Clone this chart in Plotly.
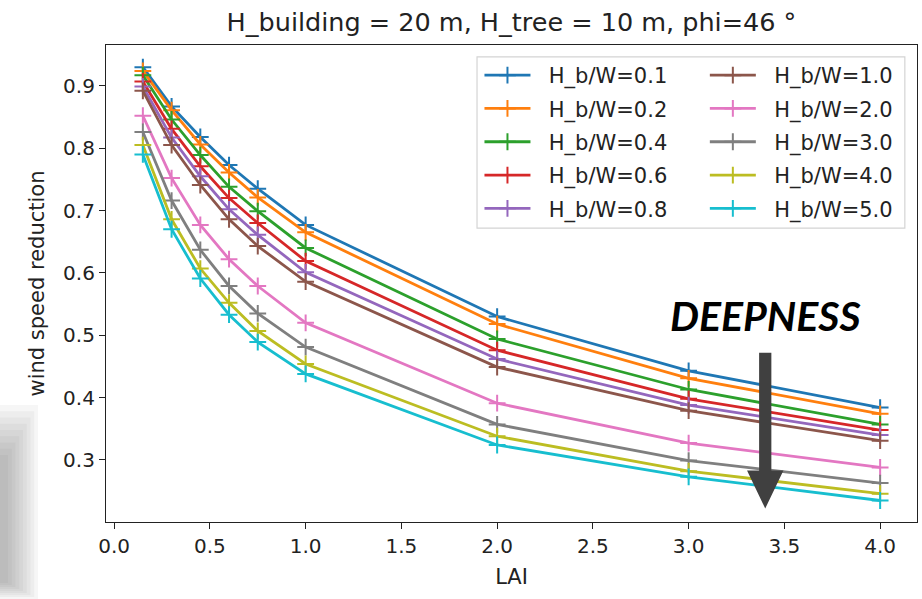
import plotly.graph_objects as go

# Leaf area index sampled in the simulations
lai = [0.15, 0.3, 0.45, 0.6, 0.75, 1.0, 2.0, 3.0, 4.0]

# Aspect ratios H_b/W of the street canyon
aspect_labels = ["0.1", "0.2", "0.4", "0.6", "0.8", "1.0", "2.0", "3.0", "4.0", "5.0"]

# Wind speed reduction for each aspect ratio
wsr_01 = [0.930, 0.867, 0.818, 0.773, 0.735, 0.677, 0.530, 0.443, 0.384]
wsr_02 = [0.924, 0.861, 0.806, 0.761, 0.721, 0.665, 0.518, 0.431, 0.374]
wsr_04 = [0.917, 0.846, 0.789, 0.738, 0.699, 0.640, 0.494, 0.413, 0.357]
wsr_06 = [0.907, 0.831, 0.771, 0.720, 0.680, 0.619, 0.476, 0.398, 0.348]
wsr_08 = [0.899, 0.817, 0.755, 0.702, 0.661, 0.601, 0.462, 0.388, 0.340]
wsr_10 = [0.892, 0.805, 0.741, 0.686, 0.643, 0.586, 0.449, 0.379, 0.331]
wsr_20 = [0.852, 0.752, 0.677, 0.622, 0.579, 0.520, 0.391, 0.327, 0.288]
wsr_30 = [0.826, 0.716, 0.637, 0.579, 0.535, 0.481, 0.357, 0.299, 0.263]
wsr_40 = [0.805, 0.686, 0.607, 0.552, 0.507, 0.454, 0.338, 0.282, 0.246]
wsr_50 = [0.790, 0.670, 0.591, 0.533, 0.489, 0.438, 0.324, 0.273, 0.235]

series = [wsr_01, wsr_02, wsr_04, wsr_06, wsr_08, wsr_10, wsr_20, wsr_30, wsr_40, wsr_50]

colors = ["#1f77b4", "#ff7f0e", "#2ca02c", "#d62728", "#9467bd",
          "#8c564b", "#e377c2", "#7f7f7f", "#bcbd22", "#17becf"]

FONT = "DejaVu Sans"
INK = "#222222"

fig = go.Figure()
for i, (lab, vals, col) in enumerate(zip(aspect_labels, series, colors)):
    fig.add_trace(go.Scatter(
        x=lai, y=vals, mode="lines+markers",
        name="\u00a0\u00a0H_b/W=" + lab,
        line=dict(color=col, width=2.8),
        marker=dict(symbol="cross-thin", size=12, line=dict(color=col, width=2)),
        legend="legend" if i < 5 else "legend2",
        legendgroup=f"g{i}",
    ))

# Arrow marking increasing canyon depth
ax_c, y_top, y_head, y_tip = 3.4, 0.472, 0.283, 0.222
hw_shaft, hw_head = 0.032, 0.095
arrow_path = (f"M {ax_c-hw_shaft},{y_top} L {ax_c+hw_shaft},{y_top} "
              f"L {ax_c+hw_shaft},{y_head} L {ax_c+hw_head},{y_head} "
              f"L {ax_c},{y_tip} L {ax_c-hw_head},{y_head} "
              f"L {ax_c-hw_shaft},{y_head} Z")

shapes = [
    dict(type="path", path=arrow_path, xref="x", yref="y",
         fillcolor="#404040", line=dict(width=0), layer="above"),
    # legend frame
    dict(type="rect", xref="paper", yref="paper",
         x0=0.4575, x1=0.985, y0=0.616, y1=0.975,
         fillcolor="rgba(255,255,255,0.85)",
         line=dict(color="#d4d4d4", width=1.2), layer="above"),
]

# soft grey smudge at the lower-left edge of the page (nested translucent layers)
W_PLOT, H_PLOT, L_M, T_M = 811.0, 477.0, 106.0, 45.0
def px_x(p):
    return (p - L_M) / W_PLOT
def px_y(p):
    return 1 - (p - T_M) / H_PLOT
n_layers = 9
for k in range(n_layers):
    t = k / (n_layers - 1)
    right = 38 - 30 * t
    top = 405 + 50 * t
    bottom = 599 - 16 * t
    shapes.append(dict(type="rect", xref="paper", yref="paper",
                       x0=px_x(-2), x1=px_x(right), y0=px_y(bottom), y1=px_y(top),
                       fillcolor="rgba(110,110,110,0.06)",
                       line=dict(width=0), layer="below"))

fig.update_layout(
    width=922, height=599,
    margin=dict(l=106, r=5, t=45, b=77),
    paper_bgcolor="white", plot_bgcolor="white",
    font=dict(family=FONT, size=20, color=INK),
    title=dict(text="H_building = 20 m, H_tree = 10 m, phi=46 °",
               x=0.5, xref="paper", xanchor="center",
               y=1 - 22 / 599, yanchor="middle",
               font=dict(family=FONT, size=25.5, color=INK)),
    xaxis=dict(range=[-0.0425, 4.1925], tick0=0, dtick=0.5, tickformat=".1f",
               showgrid=False, zeroline=False, showline=True, mirror=True,
               linecolor=INK, linewidth=1.2, ticks="outside",
               ticklen=6, tickwidth=1.2, tickcolor=INK,
               tickfont=dict(family=FONT, size=20),
               title=dict(text="LAI", standoff=12,
                          font=dict(family=FONT, size=21))),
    yaxis=dict(range=[0.2005, 0.9655], tick0=0.3, dtick=0.1, tickformat=".1f",
               showgrid=False, zeroline=False, showline=True, mirror=True,
               linecolor=INK, linewidth=1.2, ticks="outside",
               ticklen=6, tickwidth=1.2, tickcolor=INK,
               tickfont=dict(family=FONT, size=20),
               title=dict(text="wind speed reduction", standoff=12,
                          font=dict(family=FONT, size=21))),
    legend=dict(x=0.4605, y=0.979, xanchor="left", yanchor="top",
                bgcolor="rgba(0,0,0,0)", borderwidth=0,
                font=dict(family=FONT, size=21, color=INK),
                itemwidth=46, tracegroupgap=3),
    legend2=dict(x=0.7384, y=0.979, xanchor="left", yanchor="top",
                 bgcolor="rgba(0,0,0,0)", borderwidth=0,
                 font=dict(family=FONT, size=21, color=INK),
                 itemwidth=46, tracegroupgap=3),
    shapes=shapes,
    annotations=[dict(text="DEEPNESS", x=3.4, y=0.532, xref="x", yref="y",
                      showarrow=False, xanchor="center", yanchor="middle",
                      font=dict(family="Lato", size=41, color="black",
                                weight="bold", style="italic"))],
    showlegend=True,
)

fig.write_html("out.html")
